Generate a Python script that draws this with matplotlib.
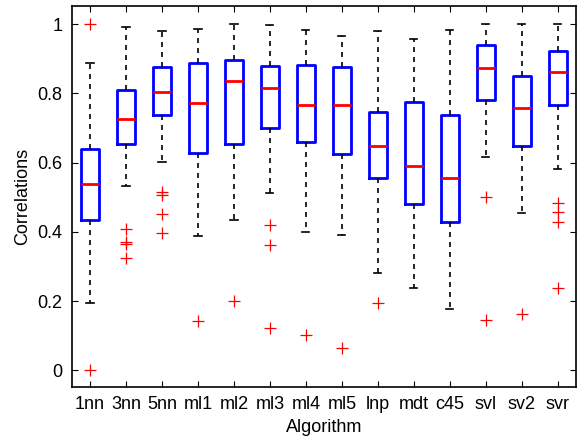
import matplotlib
matplotlib.use("Agg")
import matplotlib.pyplot as plt

# ── Data (box stats per algorithm) ────────────────────────────────────────
algos  = ["1nn", "3nn", "5nn", "ml1", "ml2", "ml3", "ml4",
          "ml5", "lnp", "mdt", "c45", "svl", "sv2", "svr"]
whislo = [0.194, 0.533, 0.602, 0.388, 0.435, 0.512, 0.401,
          0.391, 0.281, 0.239, 0.178, 0.617, 0.454, 0.581]
q1     = [0.433, 0.654, 0.738, 0.627, 0.655, 0.701, 0.660,
          0.624, 0.555, 0.480, 0.430, 0.782, 0.647, 0.767]
med    = [0.539, 0.726, 0.803, 0.773, 0.836, 0.815, 0.766,
          0.767, 0.648, 0.591, 0.557, 0.873, 0.759, 0.862]
q3     = [0.639, 0.810, 0.877, 0.888, 0.896, 0.879, 0.881,
          0.877, 0.747, 0.774, 0.737, 0.941, 0.850, 0.922]
whishi = [0.888, 0.992, 0.980, 0.985, 0.999, 0.998, 0.983,
          0.965, 0.980, 0.957, 0.984, 1.000, 1.000, 1.000]
fliers = [[1.0, 0.0],
          [0.408, 0.371, 0.365, 0.324],
          [0.516, 0.507, 0.451, 0.396],
          [0.144],
          [0.202],
          [0.421, 0.363, 0.122],
          [0.103],
          [0.066],
          [0.196],
          [],
          [],
          [0.501, 0.147],
          [0.162],
          [0.483, 0.458, 0.430, 0.239]]

plt.rcParams["font.family"] = ["Liberation Sans", "DejaVu Sans"]

stats = []
for i, name in enumerate(algos):
    stats.append(dict(label=name, whislo=whislo[i], q1=q1[i], med=med[i],
                      q3=q3[i], whishi=whishi[i], fliers=fliers[i]))

fig = plt.figure(figsize=(5.77, 4.42), dpi=100)
ax = fig.add_axes([0.1248, 0.125, 0.873, 0.862])

ax.bxp(stats, positions=range(1, len(algos) + 1), widths=0.5,
       capwidths=0.2, showfliers=True,
       boxprops=dict(color="#0000ff", linewidth=2.0),
       medianprops=dict(color="#ff0000", linewidth=2.0),
       whiskerprops=dict(color="black", linestyle=(0, (3, 3)), linewidth=1.2),
       capprops=dict(color="black", linewidth=1.2),
       flierprops=dict(marker="+", markeredgecolor="#ff0000",
                       markersize=9, markeredgewidth=0.9, linestyle="none"))

ax.set_xlim(0.5, 14.5)
ax.set_ylim(-0.047, 1.053)
ax.set_yticks([0, 0.2, 0.4, 0.6, 0.8, 1])
ax.set_yticklabels(["0", "0.2", "0.4", "0.6", "0.8", "1"])
ax.set_xticks(range(1, len(algos) + 1))
ax.set_xticklabels(algos)
ax.tick_params(direction="in", top=True, right=True, labelsize=13,
               length=4, width=0.8, pad=7)
for s in ax.spines.values():
    s.set_linewidth(1.2)
ax.set_xlabel("Algorithm", fontsize=13, labelpad=4)
ax.set_ylabel("Correlations", fontsize=13, labelpad=4)

fig.savefig("out.png", dpi=100)
